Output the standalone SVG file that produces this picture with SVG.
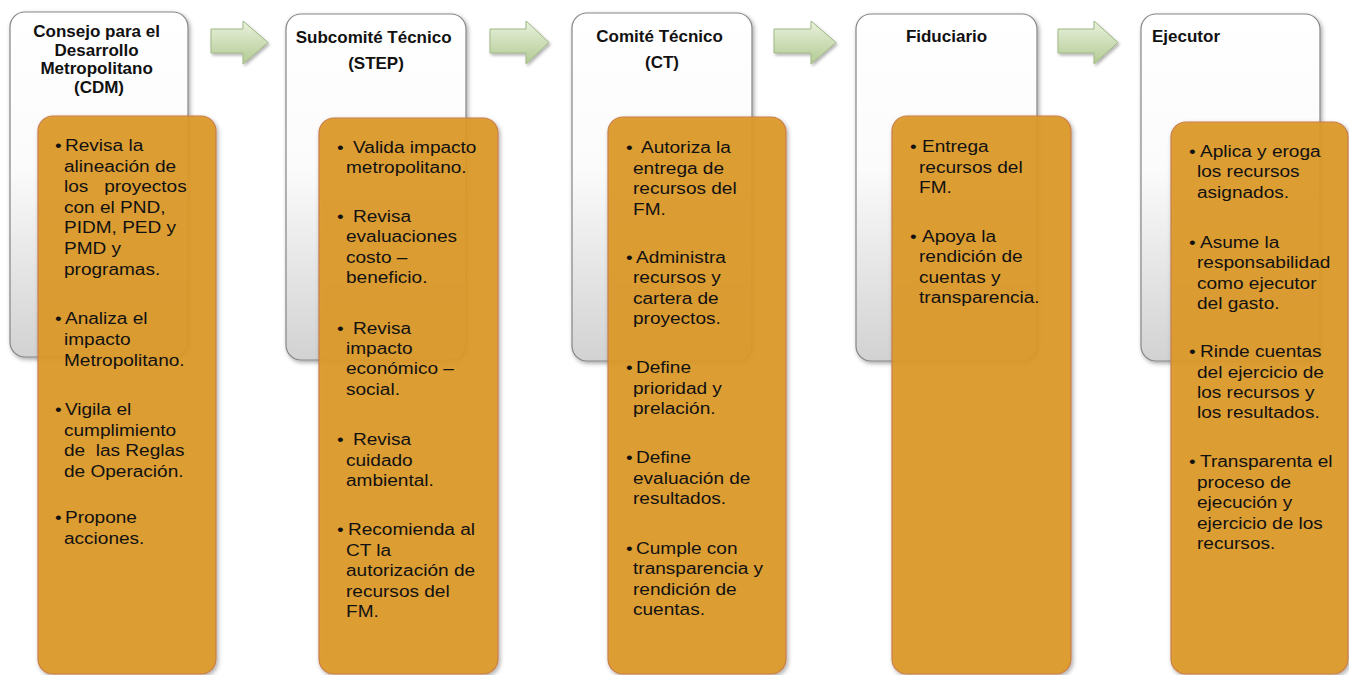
<svg xmlns="http://www.w3.org/2000/svg" width="1349" height="675" viewBox="0 0 1349 675">
<defs>
<linearGradient id="gWhite" x1="0" y1="0" x2="0" y2="1">
<stop offset="0" stop-color="#ffffff"/>
<stop offset="0.45" stop-color="#fbfbfb"/>
<stop offset="1" stop-color="#d2d2d2"/>
</linearGradient>
<linearGradient id="gArrow" x1="0" y1="0" x2="0" y2="1">
<stop offset="0" stop-color="#eaf2dd"/>
<stop offset="1" stop-color="#b2ca93"/>
</linearGradient>
<filter id="sh" x="-10%" y="-10%" width="130%" height="130%">
<feDropShadow dx="1.5" dy="2" stdDeviation="2" flood-color="#000" flood-opacity="0.35"/>
</filter>
<filter id="shA" x="-20%" y="-20%" width="150%" height="160%">
<feDropShadow dx="1.5" dy="2" stdDeviation="1.5" flood-color="#000" flood-opacity="0.3"/>
</filter>
</defs>
<style>
.wbox{fill:url(#gWhite);stroke:#858585;stroke-width:1.2;filter:url(#sh)}
.obox{fill:#DC9928;fill-opacity:0.92;stroke:#C97D48;stroke-width:1.2;filter:url(#sh)}
.title{font-family:"Liberation Sans",Arial,sans-serif;font-size:17px;font-weight:bold;fill:#111}
.body{font-family:"Liberation Sans",Arial,sans-serif;font-size:16px;fill:#111;white-space:pre}
.arrow{fill:url(#gArrow);stroke:#9fb784;stroke-width:1;filter:url(#shA)}
</style>
<rect width="1349" height="675" fill="#ffffff"/>

<g id="connectors">
<path class="arrow" d="M211,29 H243 V21 L268,42.5 L243,64 V53 H211 Z"/>
<path class="arrow" d="M490,29 H526 V21 L549,42.5 L526,64 V53 H490 Z"/>
<path class="arrow" d="M774,29 H811 V21 L836,42.5 L811,64 V53 H774 Z"/>
<path class="arrow" d="M1058,29 H1094 V21 L1118,42.5 L1094,64 V53 H1058 Z"/>
</g>

<g id="node-cdm">
<rect class="wbox" x="10" y="12" width="178" height="345" rx="15"/>
<text class="title" text-anchor="middle">
<tspan x="99" y="37">Consejo para el</tspan>
<tspan x="99" y="55.5">Desarrollo</tspan>
<tspan x="99" y="74">Metropolitano</tspan>
<tspan x="99" y="92.5">(CDM)</tspan>
</text>
<rect class="obox" x="38" y="116" width="178" height="558" rx="15"/>
<text class="body" transform="matrix(1.19 0 0 1 64 0)">
<tspan x="-7.6" y="151">•</tspan><tspan x="0.8" y="151">Revisa la</tspan>
<tspan x="0" y="171.6">alineación de</tspan>
<tspan x="0" y="192.2">los   proyectos</tspan>
<tspan x="0" y="212.8">con el PND,</tspan>
<tspan x="0" y="233.4">PIDM, PED y</tspan>
<tspan x="0" y="254">PMD y</tspan>
<tspan x="0" y="274.6">programas.</tspan>
<tspan x="-7.6" y="324.5">•</tspan><tspan x="0.8" y="324.5">Analiza el</tspan>
<tspan x="0" y="345">impacto</tspan>
<tspan x="0" y="365.6">Metropolitano.</tspan>
<tspan x="-7.6" y="415">•</tspan><tspan x="0.8" y="415">Vigila el</tspan>
<tspan x="0" y="435.6">cumplimiento</tspan>
<tspan x="0" y="456">de  las Reglas</tspan>
<tspan x="0" y="476.6">de Operación.</tspan>
<tspan x="-7.6" y="523">•</tspan><tspan x="0.8" y="523">Propone</tspan>
<tspan x="0" y="543.6">acciones.</tspan>
</text>
</g>

<g id="node-step">
<rect class="wbox" x="286" y="14" width="180" height="346" rx="15"/>
<text class="title" text-anchor="middle">
<tspan x="376" y="43">Subcomité Técnico</tspan>
<tspan x="376" y="68.5">(STEP)</tspan>
</text>
<rect class="obox" x="319" y="118" width="179" height="556" rx="15"/>
<text class="body" transform="matrix(1.19 0 0 1 346 0)">
<tspan x="-7.6" y="153">•</tspan><tspan x="5.9" y="153">Valida impacto</tspan>
<tspan x="0" y="173.5">metropolitano.</tspan>
<tspan x="-7.6" y="222">•</tspan><tspan x="5.9" y="222">Revisa</tspan>
<tspan x="0" y="242.5">evaluaciones</tspan>
<tspan x="0" y="263">costo –</tspan>
<tspan x="0" y="283.5">beneficio.</tspan>
<tspan x="-7.6" y="334">•</tspan><tspan x="5.9" y="334">Revisa</tspan>
<tspan x="0" y="354">impacto</tspan>
<tspan x="0" y="374.5">económico –</tspan>
<tspan x="0" y="395">social.</tspan>
<tspan x="-7.6" y="445.5">•</tspan><tspan x="5.9" y="445.5">Revisa</tspan>
<tspan x="0" y="466">cuidado</tspan>
<tspan x="0" y="486.5">ambiental.</tspan>
<tspan x="-7.6" y="535.5">•</tspan><tspan x="1.7" y="535.5">Recomienda al</tspan>
<tspan x="0" y="556">CT la</tspan>
<tspan x="0" y="576.5">autorización de</tspan>
<tspan x="0" y="597">recursos del</tspan>
<tspan x="0" y="617.5">FM.</tspan>
</text>
</g>

<g id="node-ct">
<rect class="wbox" x="572" y="13" width="180" height="348" rx="15"/>
<text class="title" text-anchor="middle">
<tspan x="662" y="42">Comité Técnico</tspan>
<tspan x="662" y="68">(CT)</tspan>
</text>
<rect class="obox" x="608" y="117" width="178" height="557" rx="15"/>
<text class="body" transform="matrix(1.19 0 0 1 633 0)">
<tspan x="-5.9" y="153">•</tspan><tspan x="6.7" y="153">Autoriza la</tspan>
<tspan x="0" y="174">entrega de</tspan>
<tspan x="0" y="194.5">recursos del</tspan>
<tspan x="0" y="215">FM.</tspan>
<tspan x="-5.9" y="263">•</tspan><tspan x="2.5" y="263">Administra</tspan>
<tspan x="0" y="283.5">recursos y</tspan>
<tspan x="0" y="304">cartera de</tspan>
<tspan x="0" y="324">proyectos.</tspan>
<tspan x="-5.9" y="373.5">•</tspan><tspan x="2.5" y="373.5">Define</tspan>
<tspan x="0" y="394">prioridad y</tspan>
<tspan x="0" y="414.5">prelación.</tspan>
<tspan x="-5.9" y="463.5">•</tspan><tspan x="2.5" y="463.5">Define</tspan>
<tspan x="0" y="484">evaluación de</tspan>
<tspan x="0" y="504.5">resultados.</tspan>
<tspan x="-5.9" y="554">•</tspan><tspan x="2.5" y="554">Cumple con</tspan>
<tspan x="0" y="574.5">transparencia y</tspan>
<tspan x="0" y="595">rendición de</tspan>
<tspan x="0" y="615.5">cuentas.</tspan>
</text>
</g>

<g id="node-fiduciario">
<rect class="wbox" x="856" y="14" width="181" height="347" rx="15"/>
<text class="title" text-anchor="middle" x="946.5" y="42">Fiduciario</text>
<rect class="obox" x="892" y="116" width="179" height="558" rx="15"/>
<text class="body" transform="matrix(1.19 0 0 1 919 0)">
<tspan x="-7.6" y="152">•</tspan><tspan x="2.5" y="152">Entrega</tspan>
<tspan x="0" y="173">recursos del</tspan>
<tspan x="0" y="193.5">FM.</tspan>
<tspan x="-7.6" y="242">•</tspan><tspan x="2.5" y="242">Apoya la</tspan>
<tspan x="0" y="262.5">rendición de</tspan>
<tspan x="0" y="283">cuentas y</tspan>
<tspan x="0" y="303.5">transparencia.</tspan>
</text>
</g>

<g id="node-ejecutor">
<rect class="wbox" x="1141" y="14" width="179" height="347" rx="15"/>
<text class="title" x="1152" y="42">Ejecutor</text>
<rect class="obox" x="1171" y="122" width="177" height="552" rx="15"/>
<text class="body" transform="matrix(1.19 0 0 1 1197 0)">
<tspan x="-6.7" y="157">•</tspan><tspan x="2.5" y="157">Aplica y eroga</tspan>
<tspan x="0" y="177.5">los recursos</tspan>
<tspan x="0" y="198">asignados.</tspan>
<tspan x="-6.7" y="248">•</tspan><tspan x="2.5" y="248">Asume la</tspan>
<tspan x="0" y="268.5">responsabilidad</tspan>
<tspan x="0" y="289">como ejecutor</tspan>
<tspan x="0" y="309">del gasto.</tspan>
<tspan x="-6.7" y="357.5">•</tspan><tspan x="2.5" y="357.5">Rinde cuentas</tspan>
<tspan x="0" y="378">del ejercicio de</tspan>
<tspan x="0" y="398">los recursos y</tspan>
<tspan x="0" y="418.5">los resultados.</tspan>
<tspan x="-6.7" y="467.5">•</tspan><tspan x="2.5" y="467.5">Transparenta el</tspan>
<tspan x="0" y="488">proceso de</tspan>
<tspan x="0" y="508.5">ejecución y</tspan>
<tspan x="0" y="529">ejercicio de los</tspan>
<tspan x="0" y="549.5">recursos.</tspan>
</text>
</g>
</svg>
